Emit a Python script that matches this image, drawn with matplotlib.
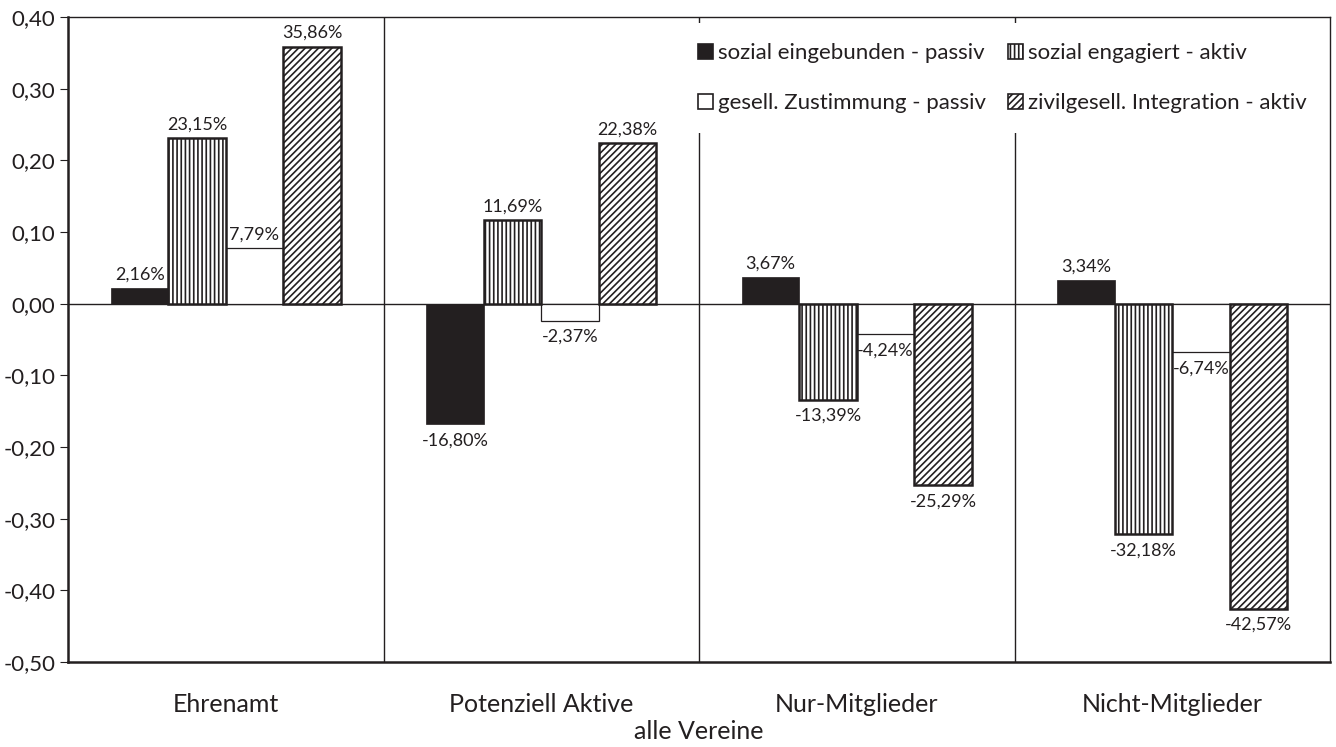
import numpy as np
import matplotlib
matplotlib.use('Agg')
import matplotlib.pyplot as plt
from matplotlib.ticker import FuncFormatter
from matplotlib.patches import Patch

# Daten (Prozentwerte)
kategorien = ['Ehrenamt', 'Potenziell Aktive', 'Nur-Mitglieder', 'Nicht-Mitglieder']
serien = ['sozial eingebunden - passiv', 'sozial engagiert - aktiv',
          'gesell. Zustimmung - passiv', 'zivilgesell. Integration - aktiv']
eingebunden_passiv = [2.16, -16.80, 3.67, 3.34]
engagiert_aktiv = [23.15, 11.69, -13.39, -32.18]
zustimmung_passiv = [7.79, -2.37, -4.24, -6.74]
integration_aktiv = [35.86, 22.38, -25.29, -42.57]
yticks = [-0.5, -0.4, -0.3, -0.2, -0.1, 0.0, 0.1, 0.2, 0.3, 0.4]

schwarz = '#231f20'
plt.rcParams['font.family'] = ['Lato', 'DejaVu Sans']
plt.rcParams['hatch.linewidth'] = 1.2
plt.rcParams['hatch.color'] = schwarz

fig = plt.figure(figsize=(13.36, 7.47), dpi=100)
ax = fig.add_axes([68/1336, 1-662/747, 1262/1336, 645/747])

x = np.arange(len(kategorien))
w = 0.182
stile = [
    dict(facecolor=schwarz, edgecolor=schwarz, linewidth=0.5, hatch=None),
    dict(facecolor='white', edgecolor=schwarz, linewidth=1.8, hatch='||||'),
    dict(facecolor='white', edgecolor=schwarz, linewidth=0.9, hatch=None),
    dict(facecolor='white', edgecolor=schwarz, linewidth=1.8, hatch='/////'),
]
werte = [eingebunden_passiv, engagiert_aktiv, zustimmung_passiv, integration_aktiv]

for i, (vals, st) in enumerate(zip(werte, stile)):
    v = np.array(vals) / 100
    pos = x + (i - 1.5) * w
    z = 2 if i == 2 else 3
    ax.bar(pos, v, w, zorder=z, **st)
    for xp, val, pct in zip(pos, v, vals):
        txt = ('%.2f%%' % pct).replace('.', ',')
        if val >= 0:
            ax.annotate(txt, (xp, val), xytext=(0, 4), textcoords='offset points',
                        ha='center', va='bottom', fontsize=13, color=schwarz, zorder=5)
        else:
            ax.annotate(txt, (xp, val), xytext=(0, -6), textcoords='offset points',
                        ha='center', va='top', fontsize=13, color=schwarz, zorder=5)

# Nulllinie und Trennlinien
ax.axhline(0, color=schwarz, linewidth=1.0, zorder=1)
for s in [0.5, 1.5, 2.5]:
    ax.axvline(s, color=schwarz, linewidth=1.0, zorder=1)

ax.set_xlim(-0.5, 3.5)
ax.set_ylim(-0.5, 0.4)
ax.set_yticks(yticks)
ax.yaxis.set_major_formatter(FuncFormatter(lambda v, p: ('%.2f' % v).replace('.', ',')))
ax.set_xticks(x)
ax.set_xticklabels(kategorien, fontsize=18)
ax.tick_params(axis='x', length=0, pad=22, colors=schwarz)
ax.tick_params(axis='y', length=6, width=0.8, labelsize=16, colors=schwarz, pad=3)
ax.set_xlabel('alle Vereine', fontsize=18, color=schwarz, labelpad=3)

for side in ['left', 'bottom']:
    ax.spines[side].set_linewidth(1.8)
for side in ['top', 'right']:
    ax.spines[side].set_linewidth(1.0)
for sp in ax.spines.values():
    sp.set_color(schwarz)

# Legende (spaltenweise: schwarz, weiss | senkrecht, schraeg)
handles = [Patch(**stile[0]), Patch(**stile[2]), Patch(**stile[1]), Patch(**stile[3])]
for h in handles:
    h.set_linewidth(1.2)
labels = [serien[0], serien[2], serien[1], serien[3]]
leg = ax.legend(handles, labels, ncol=2, loc='upper left', bbox_to_anchor=(0.483, 0.99),
                frameon=True, fontsize=16, handlelength=0.7, handleheight=0.7,
                handletextpad=0.2, columnspacing=1.0, labelspacing=1.35,
                borderpad=0.9, borderaxespad=0)
leg.get_frame().set_facecolor('white')
leg.get_frame().set_edgecolor('none')
leg.get_frame().set_alpha(1)
leg.set_zorder(6)
for t in leg.get_texts():
    t.set_color(schwarz)

fig.savefig('out.png', dpi=100)
